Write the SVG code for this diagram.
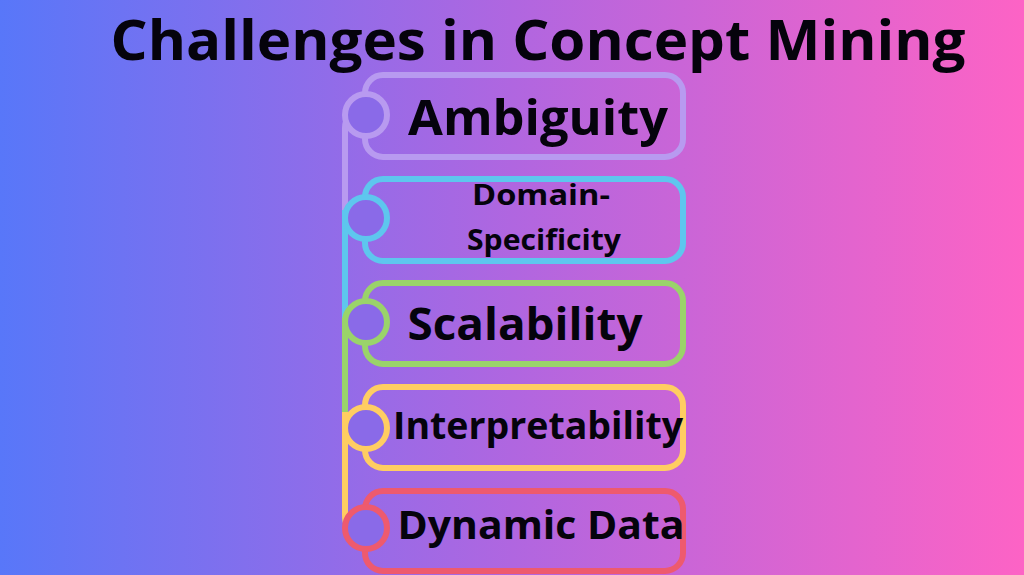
<svg xmlns="http://www.w3.org/2000/svg" width="1024" height="575" viewBox="0 0 1024 575">
<defs>
<linearGradient id="bg" x1="0" y1="0" x2="1" y2="0">
<stop offset="0" stop-color="#5877f9"/>
<stop offset="0.5" stop-color="#b066e0"/>
<stop offset="1" stop-color="#fd63c5"/>
</linearGradient>
</defs>
<style>
.box{fill:none;stroke-width:6}
.dot{fill:#8a6ae8;stroke-width:6}
.seg{stroke-width:6;fill:none}
text{font-family:"Open Sans","Noto Sans","Liberation Sans",sans-serif;font-weight:bold;fill:#05030c;text-anchor:middle}
</style>
<rect width="1024" height="575" fill="url(#bg)"/>
<text x="538" y="60" font-size="56" textLength="855" lengthAdjust="spacingAndGlyphs">Challenges in Concept Mining</text>
<g id="connectors">
<path class="seg" stroke="#b89af0" d="M366 115 H358 Q345 115 345 128 V210"/>
<path class="seg" stroke="#5ec6ee" d="M345 210 V318"/>
<path class="seg" stroke="#9ad36a" d="M345 318 V412"/>
<path class="seg" stroke="#ffcd62" d="M345 412 V515 Q345 528 352 528"/>
</g>
<g id="n1"><rect class="box" stroke="#b89af0" x="365" y="75" width="318" height="82" rx="18"/><circle class="dot" stroke="#b89af0" cx="366" cy="115" r="21"/><text x="538" y="135" font-size="48" textLength="260" lengthAdjust="spacingAndGlyphs">Ambiguity</text></g>
<g id="n2"><rect class="box" stroke="#5ec6ee" x="365" y="179" width="318" height="82" rx="18"/><circle class="dot" stroke="#5ec6ee" cx="366" cy="218" r="21"/><text x="541" y="205" font-size="28" textLength="138" lengthAdjust="spacingAndGlyphs">Domain-</text><text x="544" y="250" font-size="28" textLength="154" lengthAdjust="spacingAndGlyphs">Specificity</text></g>
<g id="n3"><rect class="box" stroke="#9ad36a" x="365" y="283" width="318" height="81" rx="18"/><circle class="dot" stroke="#9ad36a" cx="366" cy="322" r="21"/><text x="525" y="340" font-size="44" textLength="235" lengthAdjust="spacingAndGlyphs">Scalability</text></g>
<g id="n4"><rect class="box" stroke="#ffcd62" x="365" y="387" width="318" height="81" rx="18"/><circle class="dot" stroke="#ffcd62" cx="366" cy="428" r="21"/><text x="538" y="439" font-size="37" textLength="290" lengthAdjust="spacingAndGlyphs">Interpretability</text></g>
<g id="n5"><rect class="box" stroke="#ee5a6e" x="365" y="491" width="318" height="80" rx="18"/><circle class="dot" stroke="#ee5a6e" cx="366" cy="528" r="21"/><text x="541" y="539" font-size="40" textLength="287" lengthAdjust="spacingAndGlyphs">Dynamic Data</text></g>
</svg>
